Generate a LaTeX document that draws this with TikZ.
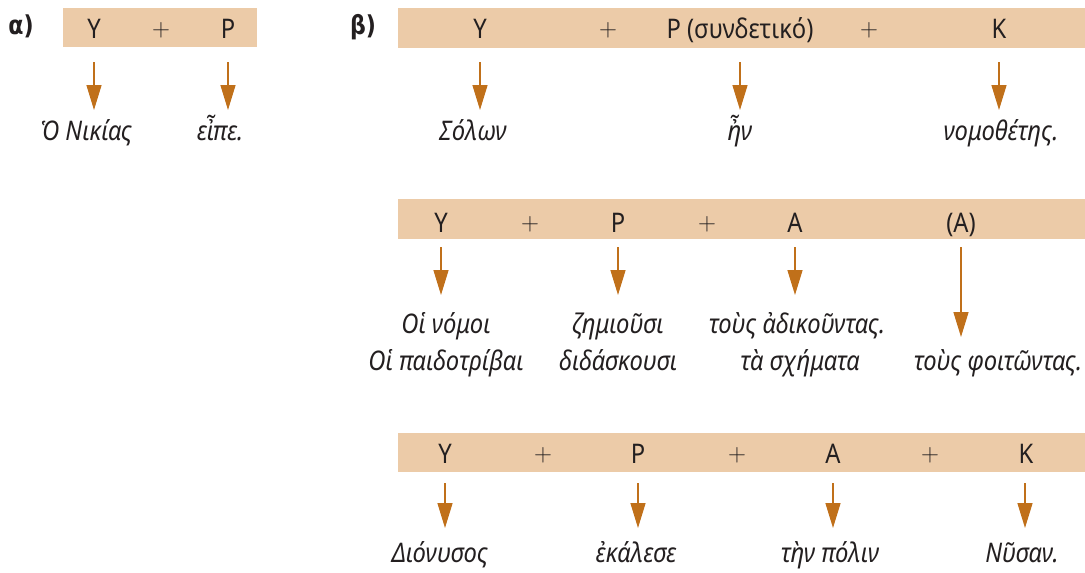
\documentclass[tikz,border=0pt]{standalone}
\usepackage{fontspec}
\setmainfont{Noto Sans}[FakeStretch=0.88]
\newfontfamily\labfont{DejaVu Sans}[FakeStretch=0.85]
\usetikzlibrary{arrows.meta}
\definecolor{barc}{HTML}{ECCBA8}
\definecolor{arrc}{HTML}{C0701A}
\definecolor{txt}{HTML}{231F20}
\begin{document}
\begin{tikzpicture}[x=1pt,y=-1pt,
 head/.style={anchor=base, inner sep=0pt, font=\fontsize{27}{30}\selectfont, text=txt},
 plus/.style={anchor=base, inner sep=0pt, font=\fontsize{30}{30}\selectfont, text=txt, yshift=2pt, execute at begin node=$, execute at end node=$},
 word/.style={anchor=base, inner sep=0pt, font=\fontsize{27}{30}\selectfont\itshape, text=txt},
 lab/.style={anchor=base, inner sep=0pt, font=\labfont\fontsize{26}{30}\selectfont\bfseries, text=txt},
 arr/.style={draw=arrc, line width=1.4pt, -{Triangle[length=25pt,width=15pt]}}
]
\useasboundingbox (0,0) rectangle (1085,573);
% bars
\fill[barc] (63,8) rectangle (257,47);
\fill[barc] (398,8) rectangle (1085,48);
\fill[barc] (398,199) rectangle (1085,239);
\fill[barc] (398,433) rectangle (1085,472);
% labels
\node[lab] (la) at (21,34) {α)};
\node[lab] (lb) at (363,34) {β)};
% panel a
\node[head] (aY) at (94,38) {Y};
\node[plus] (ap) at (161,38) {+};
\node[head] (aP) at (228,38) {P};
\coordinate (aYs) at (94,62); \coordinate (aYe) at (94,110);
\coordinate (aPs) at (228,62); \coordinate (aPe) at (228,110);
\draw[arr] (aYs) -- (aYe);
\draw[arr] (aPs) -- (aPe);
\node[word] (aw1) at (86,140) {Ὁ Νικίας};
\node[word] (aw2) at (220,140) {εἶπε.};
% panel b row 1
\node[head] (bY) at (480,38) {Y};
\node[plus] (bp1) at (608,38) {+};
\node[head] (bP) at (740,38) {P (συνδετικό)};
\node[plus] (bp2) at (869,38) {+};
\node[head] (bK) at (999,38) {K};
\coordinate (bYs) at (480,62); \coordinate (bYe) at (480,110);
\coordinate (bPs) at (740,62); \coordinate (bPe) at (740,110);
\coordinate (bKs) at (999,62); \coordinate (bKe) at (999,110);
\draw[arr] (bYs) -- (bYe);
\draw[arr] (bPs) -- (bPe);
\draw[arr] (bKs) -- (bKe);
\node[word] (bw1) at (473,140) {Σόλων};
\node[word] (bw2) at (740,140) {ἦν};
\node[word] (bw3) at (1001,140) {νομοθέτης.};
% panel b row 2
\node[head] (cY) at (441,232) {Y};
\node[plus] (cp1) at (530,232) {+};
\node[head] (cP) at (618,232) {P};
\node[plus] (cp2) at (707,232) {+};
\node[head] (cA) at (795,232) {A};
\node[head] (cA2) at (961,232) {(A)};
\coordinate (cYs) at (441,247); \coordinate (cYe) at (441,295);
\coordinate (cPs) at (618,247); \coordinate (cPe) at (618,295);
\coordinate (cAs) at (795,247); \coordinate (cAe) at (795,295);
\coordinate (cA2s) at (961,247); \coordinate (cA2e) at (961,337);
\draw[arr] (cYs) -- (cYe);
\draw[arr] (cPs) -- (cPe);
\draw[arr] (cAs) -- (cAe);
\draw[arr] (cA2s) -- (cA2e);
\node[word] (cw1) at (446,333) {Οἱ νόμοι};
\node[word] (cw2) at (446,370) {Οἱ παιδοτρίβαι};
\node[word] (cw3) at (618,333) {ζημιοῦσι};
\node[word] (cw4) at (618,370) {διδάσκουσι};
\node[word] (cw5) at (797,333) {τοὺς ἀδικοῦντας.};
\node[word] (cw6) at (800,370) {τὰ σχήματα};
\node[word] (cw7) at (998,370) {τοὺς φοιτῶντας.};
% panel b row 3
\node[head] (dY) at (445,463) {Y};
\node[plus] (dp1) at (543,463) {+};
\node[head] (dP) at (638,463) {P};
\node[plus] (dp2) at (737,463) {+};
\node[head] (dA) at (833,463) {A};
\node[plus] (dp3) at (930,463) {+};
\node[head] (dK) at (1026,463) {K};
\coordinate (dYs) at (445,483); \coordinate (dYe) at (445,528);
\coordinate (dPs) at (638,483); \coordinate (dPe) at (638,528);
\coordinate (dAs) at (833,483); \coordinate (dAe) at (833,528);
\coordinate (dKs) at (1025,483); \coordinate (dKe) at (1025,528);
\draw[arr] (dYs) -- (dYe);
\draw[arr] (dPs) -- (dPe);
\draw[arr] (dAs) -- (dAe);
\draw[arr] (dKs) -- (dKe);
\node[word] (dw1) at (440,562) {Διόνυσος};
\node[word] (dw2) at (636,562) {ἐκάλεσε};
\node[word] (dw3) at (830,562) {τὴν πόλιν};
\node[word] (dw4) at (1022,562) {Νῦσαν.};
\end{tikzpicture}
\end{document}
